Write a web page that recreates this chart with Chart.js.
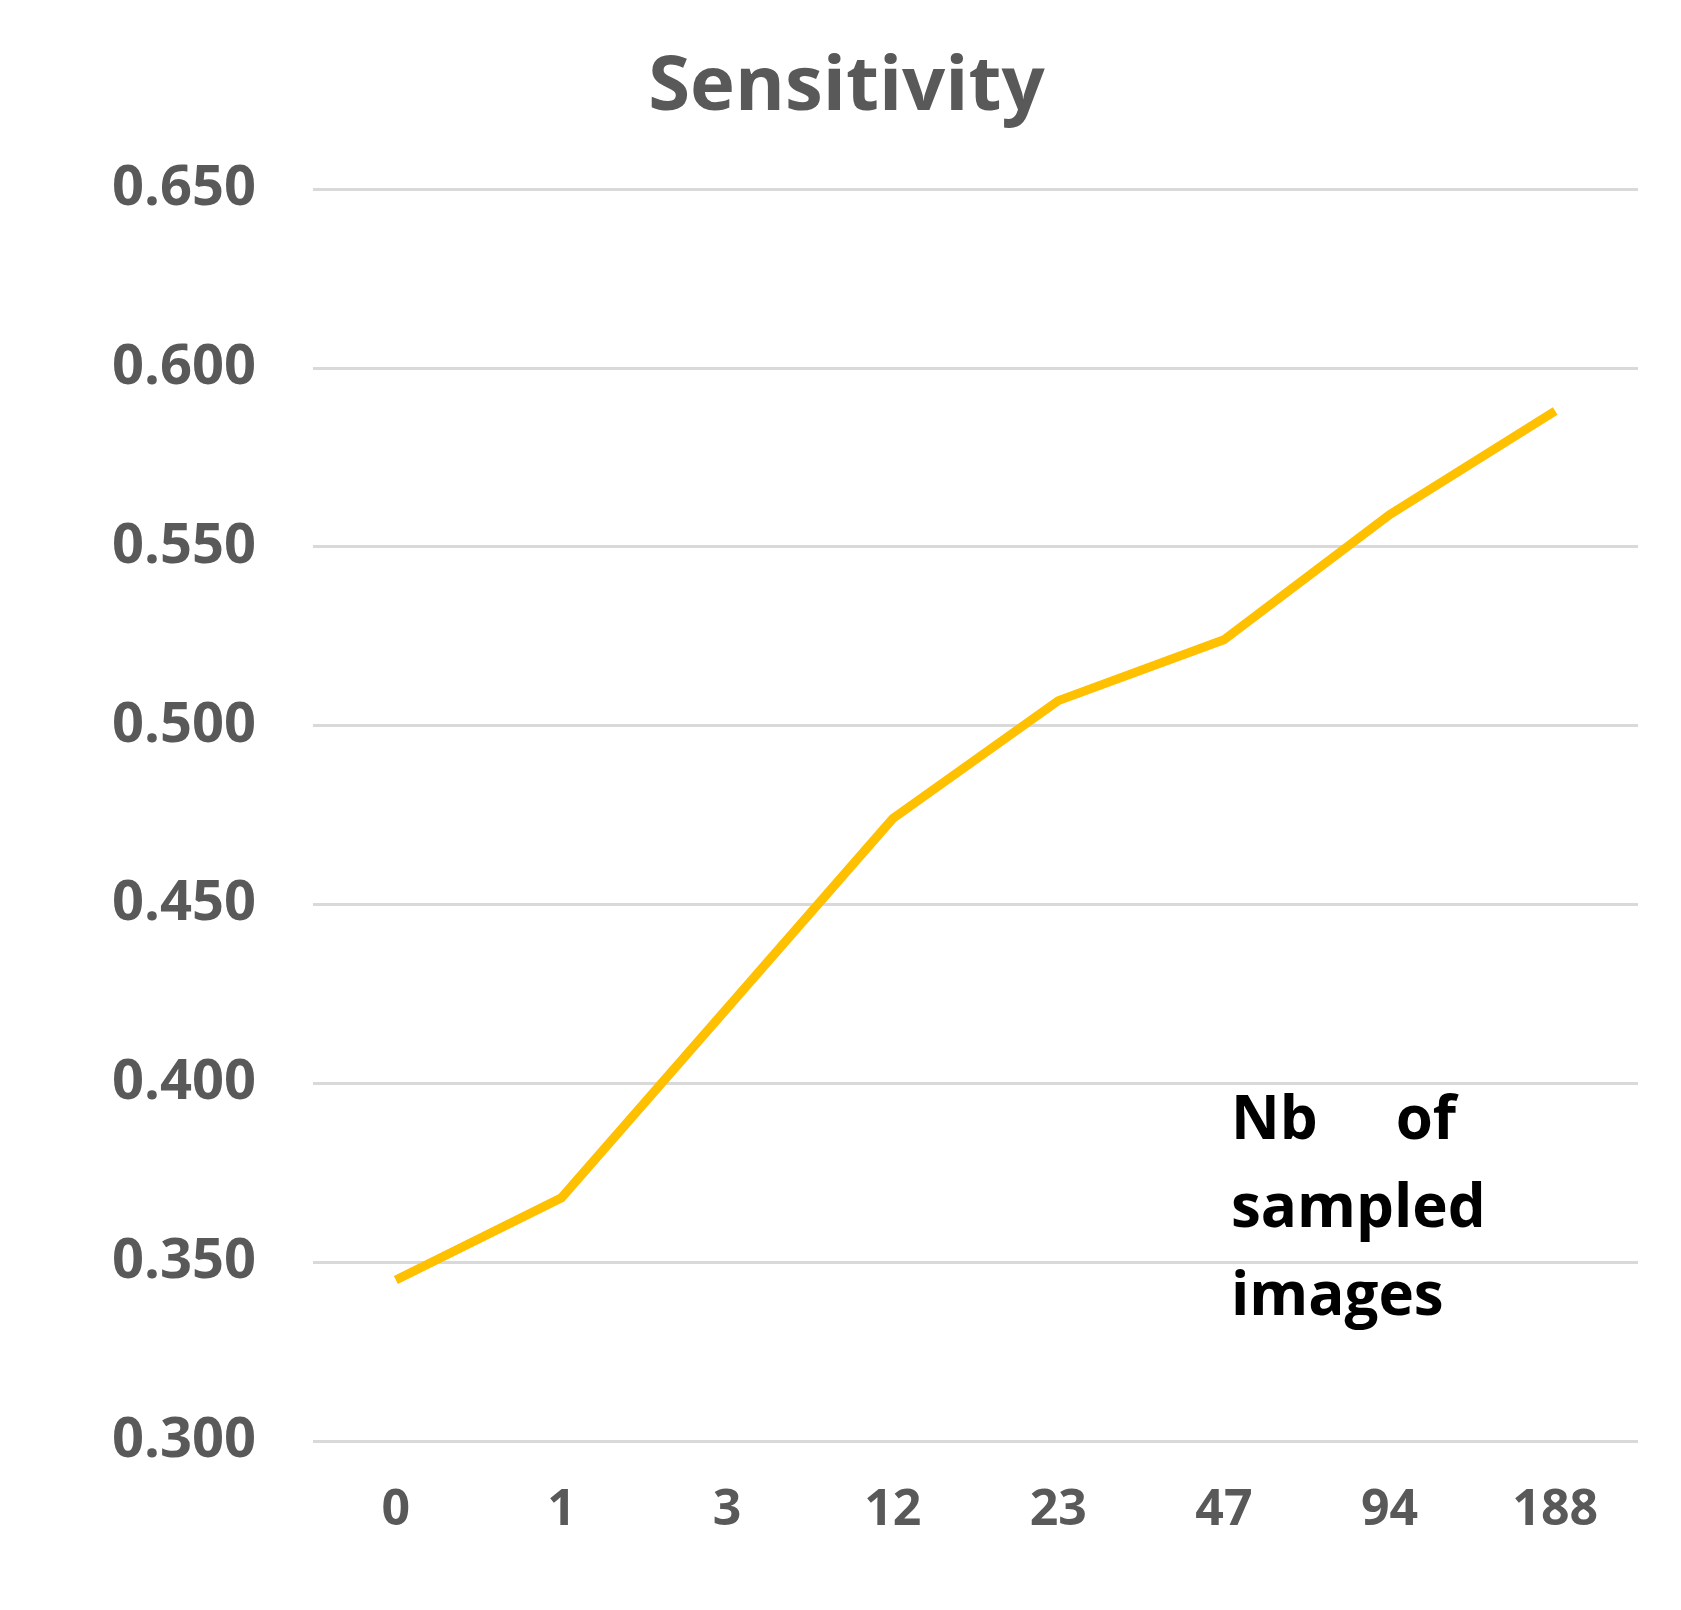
<!DOCTYPE html>
<html lang="en">
<head>
  <meta charset="UTF-8" />
  <title>Sensitivity</title>
  <style>
    body { margin: 0; background: #fff; }
    #wrap { width: 1681px; height: 1610px; position: relative; }
  </style>
</head>
<body>
  <div id="wrap"><canvas id="chart"></canvas></div>

  <script src="https://cdn.jsdelivr.net/npm/chart.js"></script>
  <script>
    const categories = ['0', '1', '3', '12', '23', '47', '94', '188'];
    const sensitivity = [0.345, 0.368, 0.421, 0.474, 0.507, 0.524, 0.559, 0.588];
    const noteLines = ['Nb     of', 'sampled', 'images'];

    // axis caption drawn inside the plot, lower right
    const notePlugin = {
      id: 'note',
      afterDraw(chart) {
        const { ctx, chartArea } = chart;
        ctx.save();
        ctx.fillStyle = '#000';
        ctx.font = 'bold 60px "Open Sans", sans-serif';
        ctx.textBaseline = 'alphabetic';
        noteLines.forEach((t, i) => {
          ctx.fillText(t, chartArea.left + 918, chartArea.top + 950 + i * 88);
        });
        ctx.restore();
      }
    };

    new Chart(document.getElementById('chart'), {
      type: 'line',
      data: {
        labels: categories,
        datasets: [{
          data: sensitivity,
          borderColor: '#FFC000',
          borderWidth: 9,
          pointRadius: 0,
          tension: 0,
          fill: false
        }]
      },
      options: {
        responsive: true,
        maintainAspectRatio: false,
        animation: false,
        layout: { padding: { left: 55, right: 43, top: 43, bottom: 29 } },
        plugins: {
          legend: { display: false },
          tooltip: { enabled: false },
          title: {
            display: true,
            text: 'Sensitivity',
            color: '#595959',
            font: { family: 'Open Sans', size: 76, weight: 'bold' },
            padding: { top: 0, bottom: 55 }
          }
        },
        scales: {
          x: {
            offset: true,
            grid: { display: false, drawTicks: false },
            border: { display: false },
            ticks: {
              color: '#595959',
              font: { family: 'Open Sans', size: 50, weight: 'bold' },
              padding: 40
            }
          },
          y: {
            min: 0.3,
            max: 0.65,
            grid: { color: '#d9d9d9', lineWidth: 3, drawTicks: false },
            border: { display: false },
            ticks: {
              stepSize: 0.05,
              color: '#595959',
              font: { family: 'Open Sans', size: 56, weight: 'bold' },
              padding: 57,
              callback: v => v.toFixed(3)
            }
          }
        }
      },
      plugins: [notePlugin]
    });
  </script>
</body>
</html>
